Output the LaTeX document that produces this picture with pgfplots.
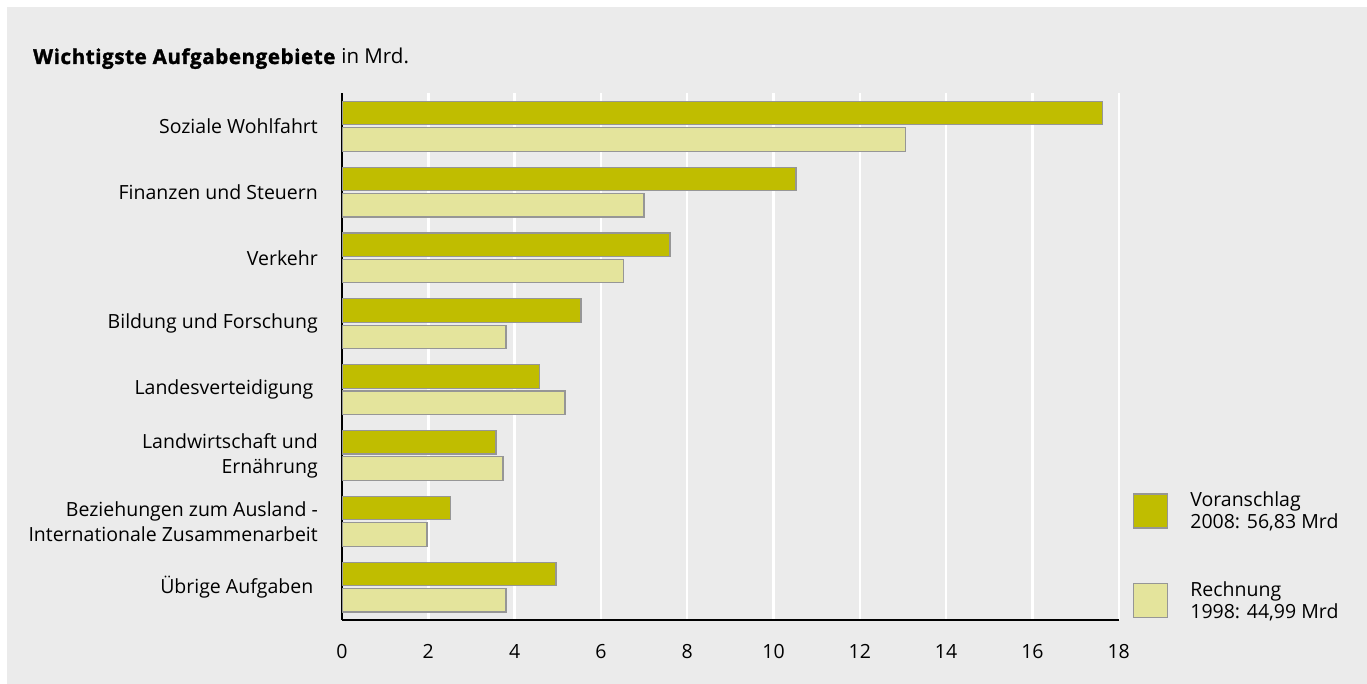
\documentclass[border=0pt]{standalone}
\usepackage{fontspec}
\setmainfont{Open Sans}[BoldFeatures={FakeBold=1.6,LetterSpace=3}]
\usepackage{pgfplots}
\pgfplotsset{compat=1.18}
\definecolor{panel}{RGB}{235,235,235}
\definecolor{darkbar}{RGB}{192,189,0}
\definecolor{lightbar}{RGB}{228,228,156}
\definecolor{barline}{RGB}{150,150,150}
\begin{document}
\begin{tikzpicture}[x=1pt,y=1pt]
\fill[white] (0,0) rectangle (1367,684);
\fill[panel] (7,0) rectangle (1367,677);
\begin{axis}[
  at={(342pt,64pt)}, anchor=south west,
  scale only axis, width=776.7pt, height=526.7pt,
  xbar, bar width=0.357,
  xmin=0, xmax=18, ymin=-0.5, ymax=7.5,
  xtick={0,2,...,18}, ytick={0,...,7},
  yticklabels={{Übrige Aufgaben\hspace*{4.5pt}},{Beziehungen zum Ausland -\\Internationale Zusammenarbeit},{Landwirtschaft und\\Ernährung},{Landesverteidigung\hspace*{4.5pt}},Bildung und Forschung,Verkehr,Finanzen und Steuern,Soziale Wohlfahrt},
  axis x line*=bottom, axis y line*=left,
  x axis line style={line width=2.4pt,-},
  y axis line style={line width=2.2pt,-},
  major tick length=0pt,
  xmajorgrids, major grid style={white, line width=2.4pt},
  /pgf/number format/assume math mode=true,
  xticklabel style={font=\fontsize{19.5}{25}\selectfont, anchor=base, yshift=-39pt},
  yticklabel style={font=\fontsize{19.5}{25}\selectfont, align=right, anchor=east, inner sep=0pt, xshift=-24pt},
  title={\textbf{Wichtigste Aufgabengebiete} in Mrd.},
  title style={at={(-0.3978,1)}, anchor=base west, inner sep=0pt, yshift=23.3pt, font=\fontsize{20.5}{24}\selectfont},
  legend style={draw=none, fill=none, inner sep=0pt, outer sep=0pt, at={(1.0186,0)}, anchor=south west,
    row sep=51pt, font=\fontsize{19.5}{22.3}\selectfont, nodes={inner sep=0pt},
    cells={anchor=west, align=left},
    /tikz/every odd column/.append style={column sep=22pt}},
]
\addplot[xbar, fill=darkbar, draw=barline, line width=1.2pt, bar shift=0.2,
  legend image code/.code={\draw[fill=darkbar,draw=barline,line width=1.2pt] (0pt,-17pt) rectangle (34pt,17pt);}]
  coordinates {(17.62,7) (10.52,6) (7.60,5) (5.54,4) (4.57,3) (3.57,2) (2.51,1) (4.96,0)};
\addlegendentry{Voranschlag\\2008: 56,83 Mrd}
\addplot[xbar, fill=lightbar, draw=barline, line width=1.2pt, bar shift=-0.2,
  legend image code/.code={\draw[fill=lightbar,draw=barline,line width=1.2pt] (0pt,-17pt) rectangle (34pt,17pt);}]
  coordinates {(13.06,7) (7.00,6) (6.52,5) (3.80,4) (5.17,3) (3.73,2) (1.97,1) (3.80,0)};
\addlegendentry{Rechnung\\1998: 44,99 Mrd}
\end{axis}
\end{tikzpicture}
\end{document}
